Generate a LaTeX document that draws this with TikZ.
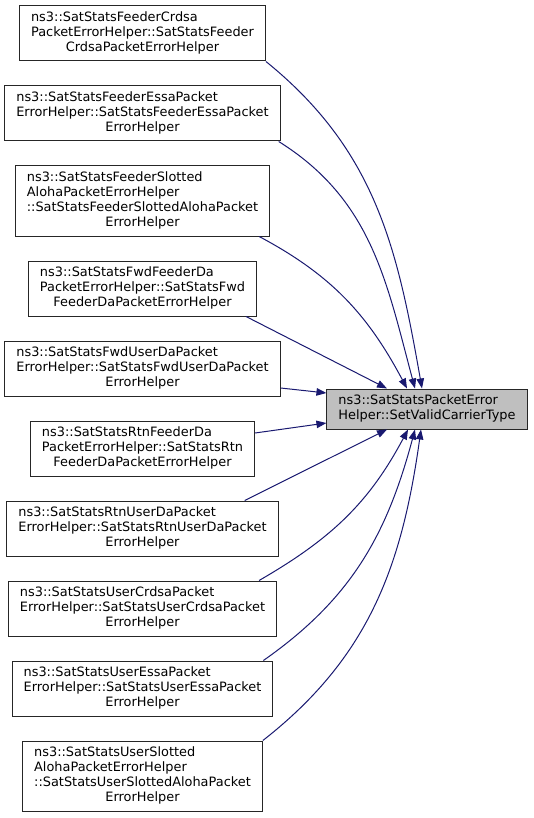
\documentclass[tikz,border=0pt]{standalone}
\usepackage{fontspec}
\usepackage{xcolor}
\usepackage{tikz}
\usetikzlibrary{arrows.meta}
\newfontfamily\doxfont{DejaVu Sans}
\definecolor{edgeblue}{HTML}{191970}
\definecolor{callgray}{HTML}{BFBFBF}
\newcommand{\fnlines}[1]{\begin{tabular}{@{}l@{}}#1\end{tabular}}
\newcommand{\lastln}[1]{\multicolumn{1}{@{}c@{}}{#1}}
\tikzset{
  fnbox/.style={draw=black!85,line width=1pt,fill=white,inner xsep=11.5pt,inner ysep=5pt,
    font=\doxfont\fontsize{12.9}{15}\selectfont},
  callee/.style={fnbox,fill=callgray},
  call/.style={draw=edgeblue,line width=1pt,-{Triangle[length=10pt,width=7.5pt]},edgeblue}
}

\begin{document}
\begin{tikzpicture}[x=1pt,y=1pt]
  \useasboundingbox (0,0) rectangle (533,-818);
  % callers
  \node[fnbox] (crdsaF) at (142.5,-33.5) {\fnlines{ns3::SatStatsFeederCrdsa\\PacketErrorHelper::SatStatsFeeder\\\lastln{CrdsaPacketErrorHelper}}};
  \node[fnbox] (essaF) at (142.5,-113.5) {\fnlines{ns3::SatStatsFeederEssaPacket\\ErrorHelper::SatStatsFeederEssaPacket\\\lastln{ErrorHelper}}};
  \node[fnbox] (slottedF) at (142.5,-201) {\fnlines{ns3::SatStatsFeederSlotted\\AlohaPacketErrorHelper\\::SatStatsFeederSlottedAlohaPacket\\\lastln{ErrorHelper}}};
  \node[fnbox] (fwdFeederDa) at (142.5,-288.5) {\fnlines{ns3::SatStatsFwdFeederDa\\PacketErrorHelper::SatStatsFwd\\\lastln{FeederDaPacketErrorHelper}}};
  \node[fnbox] (fwdUserDa) at (142.5,-368.5) {\fnlines{ns3::SatStatsFwdUserDaPacket\\ErrorHelper::SatStatsFwdUserDaPacket\\\lastln{ErrorHelper}}};
  \node[fnbox] (rtnFeederDa) at (142.5,-448.5) {\fnlines{ns3::SatStatsRtnFeederDa\\PacketErrorHelper::SatStatsRtn\\\lastln{FeederDaPacketErrorHelper}}};
  \node[fnbox] (rtnUserDa) at (142.5,-528.5) {\fnlines{ns3::SatStatsRtnUserDaPacket\\ErrorHelper::SatStatsRtnUserDaPacket\\\lastln{ErrorHelper}}};
  \node[fnbox] (crdsaU) at (142.5,-608.5) {\fnlines{ns3::SatStatsUserCrdsaPacket\\ErrorHelper::SatStatsUserCrdsaPacket\\\lastln{ErrorHelper}}};
  \node[fnbox] (essaU) at (142.5,-688.5) {\fnlines{ns3::SatStatsUserEssaPacket\\ErrorHelper::SatStatsUserEssaPacket\\\lastln{ErrorHelper}}};
  \node[fnbox] (slottedU) at (142.5,-776) {\fnlines{ns3::SatStatsUserSlotted\\AlohaPacketErrorHelper\\::SatStatsUserSlottedAlohaPacket\\\lastln{ErrorHelper}}};
  % the called function
  \node[callee] (valid) at (427,-409) {\fnlines{ns3::SatStatsPacketError\\\lastln{Helper::SetValidCarrierType}}};

  \draw[call] (crdsaF.south east) to[out=-39,in=100] ([xshift=-5pt]valid.north);
  \draw[call] ([xshift=-2pt]essaF.south east) to[out=-32,in=105] ([xshift=-12pt]valid.north);
  \draw[call] ([xshift=-11pt]slottedF.south east) to[out=-28,in=118] ([xshift=-20pt]valid.north);
  \draw[call] ([xshift=-11pt]fwdFeederDa.south east) -- ([xshift=-40pt]valid.north);
  \draw[call] ([yshift=-19.5pt]fwdUserDa.east) -- ([yshift=16pt]valid.west);
  \draw[call] ([yshift=15.5pt]rtnFeederDa.east) -- ([yshift=-14pt]valid.west);
  \draw[call] ([xshift=-34pt]rtnUserDa.north east) -- ([xshift=-40pt]valid.south);
  \draw[call] ([xshift=-18pt]crdsaU.north east) to[out=30,in=-118] ([xshift=-19pt]valid.south);
  \draw[call] ([xshift=-10pt]essaU.north east) to[out=35,in=-105] ([xshift=-12pt]valid.south);
  \draw[call] (slottedU.north east) to[out=38,in=-98] ([xshift=-6pt]valid.south);
\end{tikzpicture}
\end{document}
